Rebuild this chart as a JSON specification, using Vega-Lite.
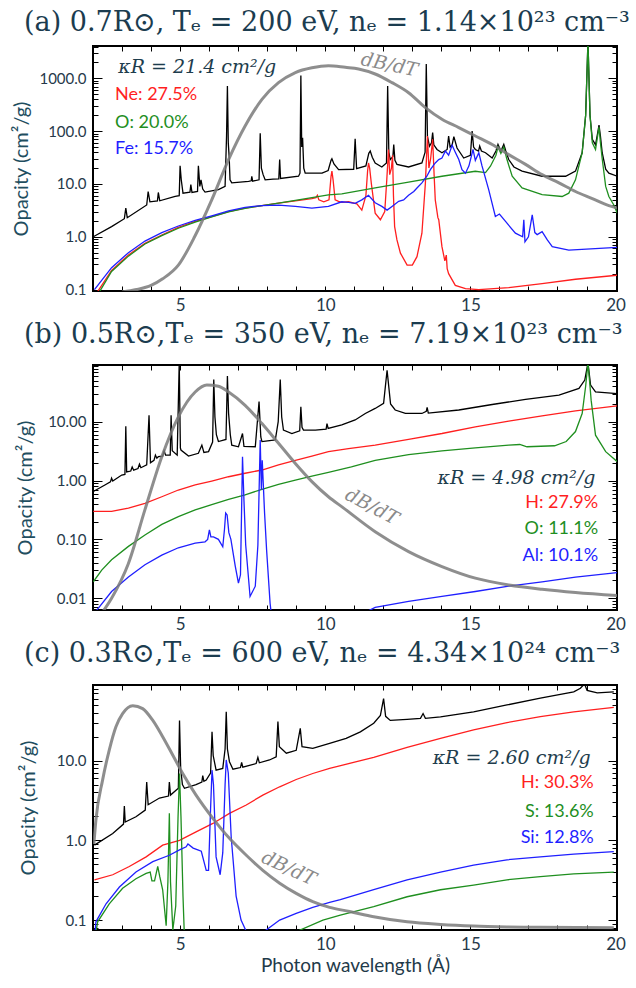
{
  "$schema": "https://vega.github.io/schema/vega-lite/v6.json",
  "padding": {"left": 10, "top": 7, "right": 0, "bottom": 0},
  "background": "white",
  "spacing": 5,
  "config": {
    "view": {"stroke": "black", "strokeWidth": 2},
    "title": {"font": "DejaVu Serif", "fontSize": 27, "fontWeight": "normal", "color": "#1b3c4f", "anchor": "start", "frame": "group"},
    "axis": {"domain": false, "grid": false, "tickColor": "black", "tickWidth": 1, "labelFont": "Lato", "labelColor": "#26394a", "titleFont": "Lato", "titleFontWeight": "normal", "titleColor": "#1f4e5f", "labelOverlap": false}
  },
  "datasets": {
    "a_spec": [
      {"s":"k","x":2.01,"y":1.0},{"s":"k","x":2.64,"y":1.56},{"s":"k","x":3.08,"y":2.2},{"s":"k","x":3.13,"y":3.5},{"s":"k","x":3.18,"y":2.3},{"s":"k","x":3.85,"y":4.0},{"s":"k","x":3.9,"y":7.2},{"s":"k","x":3.96,"y":4.6},{"s":"k","x":4.22,"y":4.8},{"s":"k","x":4.25,"y":6.9},{"s":"k","x":4.3,"y":4.8},{"s":"k","x":4.83,"y":5.8},{"s":"k","x":4.97,"y":6.0},{"s":"k","x":5.0,"y":22},{"s":"k","x":5.04,"y":12},{"s":"k","x":5.1,"y":6.7},{"s":"k","x":5.34,"y":7.0},{"s":"k","x":5.37,"y":9.7},{"s":"k","x":5.41,"y":6.9},{"s":"k","x":5.6,"y":7.2},{"s":"k","x":5.63,"y":22},{"s":"k","x":5.68,"y":9},{"s":"k","x":5.72,"y":12},{"s":"k","x":5.78,"y":8.0},{"s":"k","x":5.86,"y":7.0},{"s":"k","x":6.32,"y":7.8},{"s":"k","x":6.55,"y":9.0},{"s":"k","x":6.6,"y":80},{"s":"k","x":6.63,"y":720},{"s":"k","x":6.66,"y":60},{"s":"k","x":6.69,"y":33},{"s":"k","x":6.72,"y":12},{"s":"k","x":6.78,"y":10.5},{"s":"k","x":7.36,"y":11.2},{"s":"k","x":7.45,"y":11.5},{"s":"k","x":7.47,"y":14},{"s":"k","x":7.5,"y":11.3},{"s":"k","x":7.72,"y":12},{"s":"k","x":7.76,"y":91},{"s":"k","x":7.8,"y":20},{"s":"k","x":7.86,"y":15},{"s":"k","x":7.93,"y":12},{"s":"k","x":8.2,"y":12.3},{"s":"k","x":8.4,"y":12.5},{"s":"k","x":8.43,"y":29},{"s":"k","x":8.46,"y":12.7},{"s":"k","x":9.08,"y":14},{"s":"k","x":9.13,"y":16},{"s":"k","x":9.16,"y":1130},{"s":"k","x":9.19,"y":50},{"s":"k","x":9.22,"y":75},{"s":"k","x":9.26,"y":20},{"s":"k","x":9.31,"y":16},{"s":"k","x":9.89,"y":16},{"s":"k","x":10.1,"y":18},{"s":"k","x":10.2,"y":28},{"s":"k","x":10.23,"y":30},{"s":"k","x":10.3,"y":24},{"s":"k","x":10.46,"y":18.7},{"s":"k","x":10.98,"y":19},{"s":"k","x":11.03,"y":72},{"s":"k","x":11.08,"y":19.5},{"s":"k","x":11.4,"y":22},{"s":"k","x":11.5,"y":38},{"s":"k","x":11.55,"y":42},{"s":"k","x":11.62,"y":32},{"s":"k","x":11.72,"y":25},{"s":"k","x":11.95,"y":21},{"s":"k","x":12.11,"y":25},{"s":"k","x":12.15,"y":720},{"s":"k","x":12.19,"y":40},{"s":"k","x":12.24,"y":29},{"s":"k","x":12.33,"y":33},{"s":"k","x":12.36,"y":56},{"s":"k","x":12.4,"y":28},{"s":"k","x":12.47,"y":23.5},{"s":"k","x":12.87,"y":21},{"s":"k","x":13.33,"y":25},{"s":"k","x":13.44,"y":40},{"s":"k","x":13.48,"y":1860},{"s":"k","x":13.52,"y":80},{"s":"k","x":13.59,"y":52},{"s":"k","x":13.66,"y":60},{"s":"k","x":13.7,"y":94},{"s":"k","x":13.74,"y":55},{"s":"k","x":13.85,"y":45},{"s":"k","x":14.02,"y":39},{"s":"k","x":14.2,"y":45},{"s":"k","x":14.25,"y":81},{"s":"k","x":14.3,"y":50},{"s":"k","x":14.37,"y":55},{"s":"k","x":14.43,"y":79},{"s":"k","x":14.54,"y":48},{"s":"k","x":14.77,"y":31},{"s":"k","x":15.0,"y":35},{"s":"k","x":15.06,"y":100},{"s":"k","x":15.11,"y":50},{"s":"k","x":15.17,"y":45},{"s":"k","x":15.28,"y":42},{"s":"k","x":15.32,"y":52},{"s":"k","x":15.38,"y":42},{"s":"k","x":15.52,"y":39},{"s":"k","x":15.75,"y":31},{"s":"k","x":15.88,"y":42},{"s":"k","x":15.95,"y":56},{"s":"k","x":16.05,"y":42},{"s":"k","x":16.15,"y":56},{"s":"k","x":16.22,"y":42},{"s":"k","x":16.32,"y":29},{"s":"k","x":16.5,"y":21},{"s":"k","x":16.78,"y":17.5},{"s":"k","x":17.47,"y":14},{"s":"k","x":18.28,"y":14},{"s":"k","x":18.62,"y":17.5},{"s":"k","x":18.85,"y":39},{"s":"k","x":18.97,"y":200},{"s":"k","x":19.05,"y":5000},{"s":"k","x":19.12,"y":200},{"s":"k","x":19.2,"y":70},{"s":"k","x":19.31,"y":55},{"s":"k","x":19.38,"y":90},{"s":"k","x":19.43,"y":130},{"s":"k","x":19.48,"y":80},{"s":"k","x":19.54,"y":39},{"s":"k","x":19.66,"y":19},{"s":"k","x":19.77,"y":16},{"s":"k","x":20.06,"y":14},
      {"s":"r","x":2.15,"y":0.09},{"s":"r","x":2.64,"y":0.23},{"s":"r","x":3.22,"y":0.45},{"s":"r","x":3.79,"y":0.75},{"s":"r","x":4.37,"y":1.08},{"s":"r","x":4.94,"y":1.5},{"s":"r","x":5.52,"y":1.95},{"s":"r","x":6.09,"y":2.42},{"s":"r","x":6.67,"y":3.0},{"s":"r","x":7.24,"y":3.5},{"s":"r","x":7.82,"y":3.9},{"s":"r","x":8.39,"y":4.35},{"s":"r","x":8.97,"y":4.8},{"s":"r","x":9.54,"y":5.3},{"s":"r","x":9.68,"y":5.5},{"s":"r","x":9.73,"y":6.1},{"s":"r","x":9.78,"y":5.0},{"s":"r","x":9.95,"y":4.6},{"s":"r","x":10.13,"y":5.0},{"s":"r","x":10.2,"y":14},{"s":"r","x":10.23,"y":17.5},{"s":"r","x":10.27,"y":12},{"s":"r","x":10.34,"y":5.0},{"s":"r","x":10.46,"y":4.7},{"s":"r","x":10.57,"y":4.5},{"s":"r","x":10.8,"y":4.6},{"s":"r","x":11.09,"y":4.2},{"s":"r","x":11.26,"y":3.2},{"s":"r","x":11.4,"y":6},{"s":"r","x":11.46,"y":18},{"s":"r","x":11.49,"y":25},{"s":"r","x":11.53,"y":20},{"s":"r","x":11.59,"y":10},{"s":"r","x":11.72,"y":2.8},{"s":"r","x":11.9,"y":2.1},{"s":"r","x":12.05,"y":3.0},{"s":"r","x":12.12,"y":12},{"s":"r","x":12.18,"y":45},{"s":"r","x":12.22,"y":15},{"s":"r","x":12.28,"y":20},{"s":"r","x":12.32,"y":35},{"s":"r","x":12.35,"y":6},{"s":"r","x":12.39,"y":1.56},{"s":"r","x":12.47,"y":0.87},{"s":"r","x":12.59,"y":0.49},{"s":"r","x":12.82,"y":0.29},{"s":"r","x":13.0,"y":0.29},{"s":"r","x":13.16,"y":0.42},{"s":"r","x":13.33,"y":1.17},{"s":"r","x":13.45,"y":10.5},{"s":"r","x":13.52,"y":81},{"s":"r","x":13.57,"y":20},{"s":"r","x":13.63,"y":30},{"s":"r","x":13.7,"y":70},{"s":"r","x":13.75,"y":15},{"s":"r","x":13.79,"y":5},{"s":"r","x":13.88,"y":2.3},{"s":"r","x":13.91,"y":2.1},{"s":"r","x":14.02,"y":0.65},{"s":"r","x":14.12,"y":0.35},{"s":"r","x":14.17,"y":0.45},{"s":"r","x":14.2,"y":0.25},{"s":"r","x":14.25,"y":0.2},{"s":"r","x":14.48,"y":0.12},{"s":"r","x":14.83,"y":0.104},{"s":"r","x":15.29,"y":0.1},{"s":"r","x":16.32,"y":0.109},{"s":"r","x":17.47,"y":0.13},{"s":"r","x":18.62,"y":0.157},{"s":"r","x":20.06,"y":0.187},
      {"s":"g","x":2.22,"y":0.09},{"s":"g","x":2.64,"y":0.22},{"s":"g","x":3.22,"y":0.43},{"s":"g","x":3.79,"y":0.73},{"s":"g","x":4.37,"y":1.05},{"s":"g","x":4.94,"y":1.45},{"s":"g","x":5.52,"y":1.9},{"s":"g","x":6.09,"y":2.38},{"s":"g","x":6.67,"y":2.95},{"s":"g","x":7.24,"y":3.45},{"s":"g","x":7.82,"y":3.9},{"s":"g","x":8.39,"y":4.35},{"s":"g","x":8.97,"y":4.9},{"s":"g","x":9.54,"y":5.5},{"s":"g","x":10.11,"y":6.2},{"s":"g","x":10.57,"y":6.5},{"s":"g","x":11.72,"y":8.4},{"s":"g","x":12.87,"y":10.8},{"s":"g","x":14.02,"y":14},{"s":"g","x":15.17,"y":17.4},{"s":"g","x":15.52,"y":16.4},{"s":"g","x":15.69,"y":21.7},{"s":"g","x":15.88,"y":35},{"s":"g","x":15.95,"y":50},{"s":"g","x":16.05,"y":38},{"s":"g","x":16.15,"y":50},{"s":"g","x":16.26,"y":29},{"s":"g","x":16.44,"y":14},{"s":"g","x":16.78,"y":8.4},{"s":"g","x":17.47,"y":6.3},{"s":"g","x":18.16,"y":5.8},{"s":"g","x":18.39,"y":6.7},{"s":"g","x":18.62,"y":12},{"s":"g","x":18.85,"y":39},{"s":"g","x":18.97,"y":200},{"s":"g","x":19.05,"y":5000},{"s":"g","x":19.12,"y":200},{"s":"g","x":19.2,"y":60},{"s":"g","x":19.31,"y":45},{"s":"g","x":19.38,"y":80},{"s":"g","x":19.43,"y":120},{"s":"g","x":19.48,"y":60},{"s":"g","x":19.54,"y":30},{"s":"g","x":19.66,"y":9},{"s":"g","x":19.77,"y":5.8},{"s":"g","x":19.94,"y":4.0},{"s":"g","x":20.06,"y":2.8},
      {"s":"b","x":2.05,"y":0.1},{"s":"b","x":2.64,"y":0.26},{"s":"b","x":3.22,"y":0.5},{"s":"b","x":3.79,"y":0.83},{"s":"b","x":4.37,"y":1.2},{"s":"b","x":4.94,"y":1.6},{"s":"b","x":5.52,"y":2.05},{"s":"b","x":6.09,"y":2.5},{"s":"b","x":6.67,"y":3.1},{"s":"b","x":7.24,"y":3.6},{"s":"b","x":7.82,"y":3.9},{"s":"b","x":8.39,"y":3.98},{"s":"b","x":8.97,"y":3.76},{"s":"b","x":9.54,"y":3.5},{"s":"b","x":10.11,"y":3.76},{"s":"b","x":10.57,"y":4.6},{"s":"b","x":10.8,"y":4.5},{"s":"b","x":11.03,"y":4.3},{"s":"b","x":11.26,"y":5.0},{"s":"b","x":11.49,"y":6.1},{"s":"b","x":11.72,"y":4.4},{"s":"b","x":11.95,"y":3.76},{"s":"b","x":12.13,"y":3.2},{"s":"b","x":12.3,"y":3.76},{"s":"b","x":12.53,"y":4.7},{"s":"b","x":12.7,"y":5.0},{"s":"b","x":12.87,"y":6.1},{"s":"b","x":13.05,"y":7.2},{"s":"b","x":13.16,"y":8.4},{"s":"b","x":13.33,"y":10.5},{"s":"b","x":13.5,"y":14},{"s":"b","x":13.62,"y":18.7},{"s":"b","x":13.79,"y":25},{"s":"b","x":13.91,"y":29},{"s":"b","x":14.02,"y":31},{"s":"b","x":14.14,"y":42},{"s":"b","x":14.25,"y":35},{"s":"b","x":14.37,"y":54},{"s":"b","x":14.48,"y":40},{"s":"b","x":14.6,"y":29},{"s":"b","x":14.71,"y":18.7},{"s":"b","x":14.83,"y":16},{"s":"b","x":14.95,"y":22},{"s":"b","x":15.09,"y":45},{"s":"b","x":15.17,"y":28},{"s":"b","x":15.29,"y":39},{"s":"b","x":15.4,"y":22},{"s":"b","x":15.63,"y":7.8},{"s":"b","x":15.86,"y":2.42},{"s":"b","x":16.0,"y":2.7},{"s":"b","x":16.21,"y":1.95},{"s":"b","x":16.55,"y":1.17},{"s":"b","x":16.8,"y":1.0},{"s":"b","x":16.84,"y":2.1},{"s":"b","x":16.88,"y":0.8},{"s":"b","x":17.0,"y":1.0},{"s":"b","x":17.13,"y":2.6},{"s":"b","x":17.22,"y":1.2},{"s":"b","x":17.3,"y":1.1},{"s":"b","x":17.47,"y":1.25},{"s":"b","x":17.65,"y":0.87},{"s":"b","x":17.82,"y":0.65},{"s":"b","x":18.39,"y":0.56},{"s":"b","x":20.06,"y":0.63}
    ],
    "a_db": [
      {"x":3.0,"y":0.09},{"x":3.5,"y":0.1},{"x":4.0,"y":0.12},{"x":4.4,"y":0.16},{"x":4.94,"y":0.29},{"x":5.5,"y":1.0},{"x":6.09,"y":5.0},{"x":6.67,"y":29},{"x":7.24,"y":125},{"x":7.82,"y":400},{"x":8.39,"y":830},{"x":8.97,"y":1290},{"x":9.54,"y":1590},{"x":10.11,"y":1740},{"x":10.69,"y":1620},{"x":11.15,"y":1510},{"x":11.72,"y":1210},{"x":12.3,"y":830},{"x":12.87,"y":535},{"x":13.45,"y":280},{"x":14.02,"y":168},{"x":14.6,"y":117},{"x":15.17,"y":81},{"x":15.75,"y":56},{"x":16.32,"y":36},{"x":16.9,"y":23.5},{"x":17.47,"y":15},{"x":18.05,"y":10.5},{"x":18.62,"y":7.2},{"x":19.2,"y":5.3},{"x":19.77,"y":3.9},{"x":20.06,"y":3.5}
    ],
    "a_lab": [
      {"s":"r","t":"Ne: 27.5%","x":2.76,"y":480},{"s":"g","t":"O: 20.0%","x":2.76,"y":145},{"s":"b","t":"Fe: 15.7%","x":2.76,"y":45}
    ],
    "a_kap": [{"t":"κR = 21.4 cm²/g","x":2.87,"y":1620}],
    "a_dbl": [{"t":"dB/dT","x":12.21,"y":1800}],
    "b_spec": [
      {"s":"k","x":2.01,"y":0.65},{"s":"k","x":2.41,"y":0.84},{"s":"k","x":2.6,"y":0.95},{"s":"k","x":2.64,"y":1.1},{"s":"k","x":2.68,"y":0.98},{"s":"k","x":2.99,"y":1.24},{"s":"k","x":3.1,"y":1.27},{"s":"k","x":3.13,"y":8.4},{"s":"k","x":3.16,"y":1.4},{"s":"k","x":3.3,"y":1.45},{"s":"k","x":3.35,"y":1.7},{"s":"k","x":3.4,"y":1.5},{"s":"k","x":3.55,"y":1.6},{"s":"k","x":3.6,"y":1.9},{"s":"k","x":3.65,"y":1.65},{"s":"k","x":3.85,"y":1.84},{"s":"k","x":3.93,"y":12.9},{"s":"k","x":3.98,"y":2.0},{"s":"k","x":4.1,"y":2.2},{"s":"k","x":4.15,"y":2.7},{"s":"k","x":4.2,"y":2.4},{"s":"k","x":4.25,"y":2.54},{"s":"k","x":4.4,"y":2.6},{"s":"k","x":4.45,"y":3.2},{"s":"k","x":4.5,"y":2.7},{"s":"k","x":4.66,"y":2.7},{"s":"k","x":4.69,"y":12.9},{"s":"k","x":4.73,"y":3.2},{"s":"k","x":4.9,"y":2.7},{"s":"k","x":4.97,"y":100},{"s":"k","x":5.01,"y":3.6},{"s":"k","x":5.03,"y":3.3},{"s":"k","x":5.29,"y":2.6},{"s":"k","x":5.63,"y":2.9},{"s":"k","x":5.75,"y":4.0},{"s":"k","x":5.82,"y":3.0},{"s":"k","x":5.98,"y":3.1},{"s":"k","x":6.12,"y":4.5},{"s":"k","x":6.16,"y":52},{"s":"k","x":6.2,"y":12},{"s":"k","x":6.25,"y":6},{"s":"k","x":6.32,"y":4.6},{"s":"k","x":6.58,"y":5.0},{"s":"k","x":6.63,"y":60},{"s":"k","x":6.67,"y":14},{"s":"k","x":6.73,"y":6},{"s":"k","x":6.78,"y":4.0},{"s":"k","x":7.01,"y":3.75},{"s":"k","x":7.15,"y":6.3},{"s":"k","x":7.2,"y":3.8},{"s":"k","x":7.59,"y":3.75},{"s":"k","x":7.72,"y":22},{"s":"k","x":7.78,"y":5.5},{"s":"k","x":7.82,"y":4.6},{"s":"k","x":8.28,"y":4.9},{"s":"k","x":8.38,"y":10},{"s":"k","x":8.45,"y":52},{"s":"k","x":8.5,"y":12},{"s":"k","x":8.56,"y":7.2},{"s":"k","x":8.85,"y":6.3},{"s":"k","x":9.12,"y":7.0},{"s":"k","x":9.16,"y":18},{"s":"k","x":9.2,"y":8},{"s":"k","x":9.25,"y":7.2},{"s":"k","x":9.66,"y":7.2},{"s":"k","x":10.03,"y":7.5},{"s":"k","x":10.06,"y":9.3},{"s":"k","x":10.1,"y":7.7},{"s":"k","x":10.57,"y":8.8},{"s":"k","x":11.03,"y":10.7},{"s":"k","x":11.38,"y":13.8},{"s":"k","x":11.72,"y":16.8},{"s":"k","x":12.01,"y":20.5},{"s":"k","x":12.13,"y":75},{"s":"k","x":12.25,"y":20},{"s":"k","x":12.41,"y":15.8},{"s":"k","x":12.76,"y":13.8},{"s":"k","x":13.33,"y":13.8},{"s":"k","x":13.48,"y":15},{"s":"k","x":13.51,"y":17.5},{"s":"k","x":13.55,"y":14},{"s":"k","x":14.6,"y":15.8},{"s":"k","x":15.75,"y":19.6},{"s":"k","x":16.9,"y":24},{"s":"k","x":18.05,"y":28.4},{"s":"k","x":18.74,"y":36.7},{"s":"k","x":18.94,"y":51},{"s":"k","x":19.05,"y":100},{"s":"k","x":19.14,"y":42},{"s":"k","x":19.31,"y":32},{"s":"k","x":20.06,"y":30},
      {"s":"r","x":2.01,"y":0.3},{"s":"r","x":2.64,"y":0.3},{"s":"r","x":3.22,"y":0.34},{"s":"r","x":3.79,"y":0.41},{"s":"r","x":4.37,"y":0.53},{"s":"r","x":4.94,"y":0.69},{"s":"r","x":5.52,"y":0.84},{"s":"r","x":6.09,"y":0.98},{"s":"r","x":6.67,"y":1.16},{"s":"r","x":7.24,"y":1.33},{"s":"r","x":7.82,"y":1.51},{"s":"r","x":8.39,"y":1.84},{"s":"r","x":8.97,"y":2.2},{"s":"r","x":9.54,"y":2.6},{"s":"r","x":10.11,"y":3.1},{"s":"r","x":10.8,"y":3.5},{"s":"r","x":11.72,"y":4.0},{"s":"r","x":12.87,"y":5.0},{"s":"r","x":14.02,"y":6.3},{"s":"r","x":15.17,"y":8.2},{"s":"r","x":16.32,"y":10.2},{"s":"r","x":17.47,"y":12.6},{"s":"r","x":18.62,"y":15.3},{"s":"r","x":20.06,"y":18.6},
      {"s":"g","x":2.01,"y":0.019},{"s":"g","x":2.3,"y":0.03},{"s":"g","x":2.64,"y":0.045},{"s":"g","x":3.22,"y":0.076},{"s":"g","x":3.79,"y":0.119},{"s":"g","x":4.37,"y":0.18},{"s":"g","x":4.94,"y":0.244},{"s":"g","x":5.52,"y":0.316},{"s":"g","x":6.09,"y":0.39},{"s":"g","x":6.67,"y":0.48},{"s":"g","x":7.24,"y":0.57},{"s":"g","x":7.82,"y":0.71},{"s":"g","x":8.39,"y":0.86},{"s":"g","x":8.97,"y":1.02},{"s":"g","x":9.54,"y":1.19},{"s":"g","x":10.11,"y":1.38},{"s":"g","x":10.9,"y":1.7},{"s":"g","x":11.72,"y":2.2},{"s":"g","x":12.87,"y":2.75},{"s":"g","x":14.02,"y":3.2},{"s":"g","x":15.17,"y":3.6},{"s":"g","x":16.32,"y":4.0},{"s":"g","x":16.7,"y":4.1},{"s":"g","x":16.95,"y":3.75},{"s":"g","x":17.9,"y":3.9},{"s":"g","x":18.3,"y":4.6},{"s":"g","x":18.62,"y":6.8},{"s":"g","x":18.85,"y":13.8},{"s":"g","x":18.97,"y":40},{"s":"g","x":19.05,"y":100},{"s":"g","x":19.12,"y":40},{"s":"g","x":19.16,"y":23},{"s":"g","x":19.31,"y":5.9},{"s":"g","x":19.66,"y":3.1},{"s":"g","x":20.06,"y":2.09},
      {"s":"b","x":2.1,"y":0.006},{"s":"b","x":2.64,"y":0.013},{"s":"b","x":3.22,"y":0.023},{"s":"b","x":3.79,"y":0.037},{"s":"b","x":4.37,"y":0.054},{"s":"b","x":4.94,"y":0.072},{"s":"b","x":5.52,"y":0.086},{"s":"b","x":5.86,"y":0.091},{"s":"b","x":5.95,"y":0.1},{"s":"b","x":6.01,"y":0.145},{"s":"b","x":6.06,"y":0.11},{"s":"b","x":6.15,"y":0.11},{"s":"b","x":6.32,"y":0.1},{"s":"b","x":6.47,"y":0.075},{"s":"b","x":6.53,"y":0.15},{"s":"b","x":6.57,"y":0.28},{"s":"b","x":6.62,"y":0.26},{"s":"b","x":6.68,"y":0.13},{"s":"b","x":6.75,"y":0.1},{"s":"b","x":6.9,"y":0.035},{"s":"b","x":7.01,"y":0.018},{"s":"b","x":7.08,"y":0.025},{"s":"b","x":7.15,"y":2.54},{"s":"b","x":7.2,"y":0.46},{"s":"b","x":7.26,"y":0.08},{"s":"b","x":7.41,"y":0.0107},{"s":"b","x":7.59,"y":0.016},{"s":"b","x":7.68,"y":0.08},{"s":"b","x":7.76,"y":4.9},{"s":"b","x":7.8,"y":0.7},{"s":"b","x":7.83,"y":2.2},{"s":"b","x":7.91,"y":0.28},{"s":"b","x":7.98,"y":0.066},{"s":"b","x":8.1,"y":0.0082},{"s":"b","x":8.15,"y":0.005},
      {"s":"b","p":2,"x":11.4,"y":0.0058},{"s":"b","p":2,"x":11.72,"y":0.007},{"s":"b","p":2,"x":12.87,"y":0.0088},{"s":"b","p":2,"x":14.02,"y":0.0107},{"s":"b","p":2,"x":15.17,"y":0.013},{"s":"b","p":2,"x":16.32,"y":0.016},{"s":"b","p":2,"x":17.47,"y":0.019},{"s":"b","p":2,"x":18.62,"y":0.0228},{"s":"b","p":2,"x":20.06,"y":0.0273}
    ],
    "b_db": [
      {"x":2.35,"y":0.006},{"x":2.64,"y":0.01},{"x":3.22,"y":0.039},{"x":3.79,"y":0.32},{"x":4.37,"y":2.54},{"x":4.94,"y":12.1},{"x":5.52,"y":32},{"x":5.92,"y":42},{"x":6.32,"y":40},{"x":6.67,"y":32},{"x":7.24,"y":19},{"x":7.82,"y":9.3},{"x":8.39,"y":4.3},{"x":8.97,"y":1.95},{"x":9.54,"y":0.96},{"x":10.11,"y":0.53},{"x":10.6,"y":0.35},{"x":11.72,"y":0.135},{"x":12.87,"y":0.062},{"x":14.02,"y":0.0345},{"x":15.17,"y":0.0219},{"x":16.32,"y":0.0168},{"x":17.47,"y":0.0142},{"x":18.62,"y":0.0125},{"x":20.06,"y":0.0111}
    ],
    "b_lab": [
      {"s":"r","t":"H: 27.9%","x":19.4,"y":0.41},{"s":"g","t":"O: 11.1%","x":19.4,"y":0.148},{"s":"b","t":"Al: 10.1%","x":19.4,"y":0.053}
    ],
    "b_kap": [{"t":"κR = 4.98 cm²/g","x":19.31,"y":1.09}],
    "b_dbl": [{"t":"dB/dT","x":11.61,"y":0.36}],
    "c_spec": [
      {"s":"k","x":2.05,"y":0.87},{"s":"k","x":2.68,"y":1.22},{"s":"k","x":3.05,"y":1.6},{"s":"k","x":3.08,"y":2.7},{"s":"k","x":3.11,"y":1.7},{"s":"k","x":3.48,"y":1.98},{"s":"k","x":3.8,"y":2.4},{"s":"k","x":3.85,"y":5.4},{"s":"k","x":3.9,"y":2.8},{"s":"k","x":4.29,"y":3.4},{"s":"k","x":4.6,"y":3.6},{"s":"k","x":4.63,"y":5.4},{"s":"k","x":4.67,"y":3.7},{"s":"k","x":4.94,"y":4.5},{"s":"k","x":4.98,"y":32},{"s":"k","x":5.02,"y":8},{"s":"k","x":5.08,"y":5},{"s":"k","x":5.15,"y":4.5},{"s":"k","x":5.55,"y":5.0},{"s":"k","x":5.75,"y":5.4},{"s":"k","x":5.78,"y":6.5},{"s":"k","x":5.82,"y":5.5},{"s":"k","x":5.9,"y":5.7},{"s":"k","x":6.05,"y":7},{"s":"k","x":6.1,"y":23},{"s":"k","x":6.14,"y":11.6},{"s":"k","x":6.24,"y":7.6},{"s":"k","x":6.47,"y":8.0},{"s":"k","x":6.55,"y":14},{"s":"k","x":6.59,"y":41},{"s":"k","x":6.63,"y":14},{"s":"k","x":6.7,"y":9.7},{"s":"k","x":6.82,"y":7.8},{"s":"k","x":7.08,"y":8.2},{"s":"k","x":7.12,"y":9.5},{"s":"k","x":7.16,"y":8.3},{"s":"k","x":7.62,"y":9.2},{"s":"k","x":7.68,"y":11},{"s":"k","x":7.73,"y":9.4},{"s":"k","x":8.08,"y":10.2},{"s":"k","x":8.31,"y":11.2},{"s":"k","x":8.37,"y":31},{"s":"k","x":8.42,"y":15},{"s":"k","x":8.66,"y":12.4},{"s":"k","x":9.0,"y":13.5},{"s":"k","x":9.14,"y":25.5},{"s":"k","x":9.2,"y":15},{"s":"k","x":9.57,"y":14.3},{"s":"k","x":10.15,"y":16.5},{"s":"k","x":10.72,"y":19},{"s":"k","x":11.21,"y":23},{"s":"k","x":11.67,"y":29.5},{"s":"k","x":11.9,"y":37},{"s":"k","x":12.01,"y":60},{"s":"k","x":12.08,"y":36},{"s":"k","x":12.24,"y":32},{"s":"k","x":12.82,"y":33},{"s":"k","x":13.28,"y":34},{"s":"k","x":13.37,"y":39},{"s":"k","x":13.45,"y":34},{"s":"k","x":13.97,"y":35.5},{"s":"k","x":15.11,"y":41},{"s":"k","x":16.26,"y":50},{"s":"k","x":17.41,"y":61},{"s":"k","x":18.56,"y":73},{"s":"k","x":18.79,"y":81},{"s":"k","x":18.93,"y":92},{"s":"k","x":19.02,"y":76},{"s":"k","x":19.37,"y":71},{"s":"k","x":19.94,"y":73},
      {"s":"r","x":2.05,"y":0.32},{"s":"r","x":2.68,"y":0.37},{"s":"r","x":3.25,"y":0.47},{"s":"r","x":3.83,"y":0.62},{"s":"r","x":4.4,"y":0.87},{"s":"r","x":4.98,"y":1.0},{"s":"r","x":5.55,"y":1.28},{"s":"r","x":6.13,"y":1.63},{"s":"r","x":6.7,"y":2.18},{"s":"r","x":7.28,"y":2.78},{"s":"r","x":7.85,"y":3.7},{"s":"r","x":8.43,"y":4.7},{"s":"r","x":9.0,"y":5.8},{"s":"r","x":9.57,"y":6.9},{"s":"r","x":10.15,"y":8.0},{"s":"r","x":10.6,"y":8.8},{"s":"r","x":11.67,"y":11},{"s":"r","x":12.82,"y":14.7},{"s":"r","x":13.97,"y":19},{"s":"r","x":15.11,"y":24.3},{"s":"r","x":16.26,"y":30},{"s":"r","x":17.41,"y":35.6},{"s":"r","x":18.56,"y":41},{"s":"r","x":19.94,"y":46.7},
      {"s":"g","x":2.1,"y":0.07},{"s":"g","x":2.16,"y":0.095},{"s":"g","x":2.56,"y":0.16},{"s":"g","x":3.02,"y":0.25},{"s":"g","x":3.48,"y":0.33},{"s":"g","x":3.83,"y":0.385},{"s":"g","x":3.97,"y":0.4},{"s":"g","x":4.03,"y":0.31},{"s":"g","x":4.12,"y":0.31},{"s":"g","x":4.23,"y":0.47},{"s":"g","x":4.3,"y":0.35},{"s":"g","x":4.4,"y":0.24},{"s":"g","x":4.52,"y":0.085},{"s":"g","x":4.58,"y":0.3},{"s":"g","x":4.63,"y":2.18},{"s":"g","x":4.67,"y":0.3},{"s":"g","x":4.75,"y":0.075},{"s":"g","x":4.85,"y":0.15},{"s":"g","x":4.93,"y":2},{"s":"g","x":4.98,"y":6.9},{"s":"g","x":5.03,"y":2},{"s":"g","x":5.1,"y":0.2},{"s":"g","x":5.15,"y":0.06},
      {"s":"g","p":2,"x":8.95,"y":0.07},{"s":"g","p":2,"x":9.92,"y":0.1},{"s":"g","p":2,"x":10.52,"y":0.115},{"s":"g","p":2,"x":11.67,"y":0.147},{"s":"g","p":2,"x":12.82,"y":0.196},{"s":"g","p":2,"x":13.97,"y":0.24},{"s":"g","p":2,"x":15.11,"y":0.275},{"s":"g","p":2,"x":16.26,"y":0.32},{"s":"g","p":2,"x":17.41,"y":0.35},{"s":"g","p":2,"x":18.56,"y":0.38},{"s":"g","p":2,"x":19.94,"y":0.4},
      {"s":"b","x":2.07,"y":0.07},{"s":"b","x":2.1,"y":0.095},{"s":"b","x":2.45,"y":0.16},{"s":"b","x":2.91,"y":0.26},{"s":"b","x":3.48,"y":0.4},{"s":"b","x":4.06,"y":0.54},{"s":"b","x":4.63,"y":0.65},{"s":"b","x":4.98,"y":0.76},{"s":"b","x":5.21,"y":0.83},{"s":"b","x":5.27,"y":0.9},{"s":"b","x":5.45,"y":0.8},{"s":"b","x":5.61,"y":0.76},{"s":"b","x":5.73,"y":0.73},{"s":"b","x":5.9,"y":0.42},{"s":"b","x":5.98,"y":0.42},{"s":"b","x":6.05,"y":2.5},{"s":"b","x":6.1,"y":7.6},{"s":"b","x":6.15,"y":5},{"s":"b","x":6.24,"y":0.62},{"s":"b","x":6.38,"y":0.37},{"s":"b","x":6.47,"y":0.7},{"s":"b","x":6.55,"y":5},{"s":"b","x":6.59,"y":10.2},{"s":"b","x":6.66,"y":7},{"s":"b","x":6.76,"y":1.1},{"s":"b","x":6.93,"y":0.2},{"s":"b","x":7.1,"y":0.1},{"s":"b","x":7.28,"y":0.072},{"s":"b","x":7.9,"y":0.072},{"s":"b","x":8.43,"y":0.1},{"s":"b","x":9.0,"y":0.121},{"s":"b","x":9.57,"y":0.144},{"s":"b","x":10.15,"y":0.167},{"s":"b","x":10.52,"y":0.18},{"s":"b","x":11.67,"y":0.24},{"s":"b","x":12.82,"y":0.32},{"s":"b","x":13.97,"y":0.4},{"s":"b","x":15.11,"y":0.49},{"s":"b","x":16.26,"y":0.57},{"s":"b","x":17.41,"y":0.62},{"s":"b","x":18.56,"y":0.67},{"s":"b","x":19.94,"y":0.72}
    ],
    "c_db": [
      {"x":2.03,"y":0.9},{"x":2.1,"y":1.8},{"x":2.33,"y":5.7},{"x":2.56,"y":13.6},{"x":2.79,"y":26.7},{"x":3.02,"y":39},{"x":3.37,"y":49},{"x":3.71,"y":45},{"x":4.06,"y":32},{"x":4.4,"y":20},{"x":4.75,"y":11.7},{"x":5.09,"y":6.9},{"x":5.55,"y":3.7},{"x":6.13,"y":1.89},{"x":6.7,"y":1.06},{"x":7.28,"y":0.65},{"x":7.85,"y":0.42},{"x":8.43,"y":0.29},{"x":9.0,"y":0.216},{"x":9.57,"y":0.17},{"x":10.15,"y":0.144},{"x":10.84,"y":0.128},{"x":11.67,"y":0.11},{"x":12.82,"y":0.095},{"x":13.97,"y":0.088},{"x":15.11,"y":0.084},{"x":16.26,"y":0.082},{"x":17.41,"y":0.081},{"x":19.94,"y":0.08}
    ],
    "c_lab": [
      {"s":"r","t":"H: 30.3%","x":19.25,"y":5.2},{"s":"g","t":"S: 13.6%","x":19.25,"y":2.29},{"s":"b","t":"Si: 12.8%","x":19.25,"y":1.06}
    ],
    "c_kap": [{"t":"κR = 2.60 cm²/g","x":19.14,"y":10.7}],
    "c_dbl": [{"t":"dB/dT","x":8.74,"y":0.445}]
  },
  "vconcat": [
    {
      "title": {"text": "(a) 0.7R⊙, Tₑ = 200 eV, nₑ = 1.14×10²³ cm⁻³", "dx": -69, "offset": 3},
      "width": 524, "height": 245,
      "resolve": {"axis": {"x": "independent", "y": "independent"}},
      "layer": [
        {"data": {"name": "a_spec"}, "mark": {"type": "line", "clip": true, "strokeWidth": 1.3},
         "encoding": {
           "x": {"field": "x", "type": "quantitative", "scale": {"domain": [2, 20.05], "nice": false, "zero": false},
                 "axis": {"orient": "bottom", "title": null, "values": [2,3,4,5,6,7,8,9,10,11,12,13,14,15,16,17,18,19,20], "labelExpr": "datum.value % 5 === 0 ? datum.label : ''", "tickSize": -5, "labelPadding": 11, "labelFontSize": 17}},
           "y": {"field": "y", "type": "quantitative", "scale": {"type": "log", "domain": [0.094, 4100], "nice": false},
                 "axis": {"orient": "left", "title": "Opacity (cm²/g)", "titleFontSize": 20, "titlePadding": 7, "format": ".1f",
                          "values": [0.1,0.2,0.3,0.4,0.5,0.6,0.7,0.8,0.9,1,2,3,4,5,6,7,8,9,10,20,30,40,50,60,70,80,90,100,200,300,400,500,600,700,800,900,1000,2000,3000,4000],
                          "labelExpr": "abs(log(datum.value)/LN10 - round(log(datum.value)/LN10)) < 1e-6 ? datum.label : ''",
                          "tickSize": {"condition": {"test": "abs(log(datum.value)/LN10 - round(log(datum.value)/LN10)) < 1e-6", "value": -9}, "value": -5},
                          "labelPadding": 16, "labelFontSize": 15}},
           "color": {"field": "s", "type": "nominal", "scale": {"domain": ["k","r","g","b"], "range": ["#000000","#ff1f1f","#1f8f1f","#1f1fff"]}, "legend": null},
           "detail": {"field": "p", "type": "nominal"}
         }},
        {"data": {"name": "a_db"}, "mark": {"type": "line", "clip": true, "strokeWidth": 3, "color": "#7a7a7a", "opacity": 0.85, "interpolate": "monotone"},
         "encoding": {
           "x": {"field": "x", "type": "quantitative", "axis": {"orient": "top", "title": null, "labels": false, "values": [2,3,4,5,6,7,8,9,10,11,12,13,14,15,16,17,18,19,20], "tickSize": -5}},
           "y": {"field": "y", "type": "quantitative", "axis": {"orient": "right", "title": null, "labels": false,
                 "values": [0.1,0.2,0.3,0.4,0.5,0.6,0.7,0.8,0.9,1,2,3,4,5,6,7,8,9,10,20,30,40,50,60,70,80,90,100,200,300,400,500,600,700,800,900,1000,2000,3000,4000],
                 "tickSize": {"condition": {"test": "abs(log(datum.value)/LN10 - round(log(datum.value)/LN10)) < 1e-6", "value": -9}, "value": -5}}}
         }},
        {"data": {"name": "a_kap"}, "mark": {"type": "text", "align": "left", "baseline": "middle", "font": "DejaVu Serif", "fontStyle": "italic", "fontSize": 19, "color": "#1e3d4d"},
         "encoding": {"x": {"field": "x", "type": "quantitative", "axis": null}, "y": {"field": "y", "type": "quantitative", "axis": null}, "text": {"field": "t"}}},
        {"data": {"name": "a_lab"}, "mark": {"type": "text", "align": "left", "baseline": "middle", "font": "Lato", "fontSize": 18},
         "encoding": {"x": {"field": "x", "type": "quantitative", "axis": null}, "y": {"field": "y", "type": "quantitative", "axis": null}, "text": {"field": "t"}, "color": {"field": "s", "type": "nominal", "legend": null}}},
        {"data": {"name": "a_dbl"}, "mark": {"type": "text", "align": "center", "baseline": "middle", "font": "DejaVu Serif", "fontStyle": "italic", "fontSize": 19, "color": "#8a8a8a", "angle": 12},
         "encoding": {"x": {"field": "x", "type": "quantitative", "axis": null}, "y": {"field": "y", "type": "quantitative", "axis": null}, "text": {"field": "t"}}}
      ]
    },
    {
      "title": {"text": "(b) 0.5R⊙,Tₑ = 350 eV, nₑ = 7.19×10²³ cm⁻³", "dx": -69, "offset": 10},
      "width": 524, "height": 245,
      "resolve": {"axis": {"x": "independent", "y": "independent"}},
      "layer": [
        {"data": {"name": "b_spec"}, "mark": {"type": "line", "clip": true, "strokeWidth": 1.3},
         "encoding": {
           "x": {"field": "x", "type": "quantitative", "scale": {"domain": [2, 20.05], "nice": false, "zero": false},
                 "axis": {"orient": "bottom", "title": null, "values": [2,3,4,5,6,7,8,9,10,11,12,13,14,15,16,17,18,19,20], "labelExpr": "datum.value % 5 === 0 ? datum.label : ''", "tickSize": -5, "labelPadding": 11, "labelFontSize": 17}},
           "y": {"field": "y", "type": "quantitative", "scale": {"type": "log", "domain": [0.0063, 92], "nice": false},
                 "axis": {"orient": "left", "title": "Opacity (cm²/g)", "titleFontSize": 20, "titlePadding": 12, "format": ".2f",
                          "values": [0.007,0.008,0.009,0.01,0.02,0.03,0.04,0.05,0.06,0.07,0.08,0.09,0.1,0.2,0.3,0.4,0.5,0.6,0.7,0.8,0.9,1,2,3,4,5,6,7,8,9,10,20,30,40,50,60,70,80,90],
                          "labelExpr": "abs(log(datum.value)/LN10 - round(log(datum.value)/LN10)) < 1e-6 ? datum.label : ''",
                          "tickSize": {"condition": {"test": "abs(log(datum.value)/LN10 - round(log(datum.value)/LN10)) < 1e-6", "value": -9}, "value": -5},
                          "labelPadding": 16, "labelFontSize": 15}},
           "color": {"field": "s", "type": "nominal", "scale": {"domain": ["k","r","g","b"], "range": ["#000000","#ff1f1f","#1f8f1f","#1f1fff"]}, "legend": null},
           "detail": {"field": "p", "type": "nominal"}
         }},
        {"data": {"name": "b_db"}, "mark": {"type": "line", "clip": true, "strokeWidth": 3, "color": "#7a7a7a", "opacity": 0.85, "interpolate": "monotone"},
         "encoding": {
           "x": {"field": "x", "type": "quantitative", "axis": {"orient": "top", "title": null, "labels": false, "values": [2,3,4,5,6,7,8,9,10,11,12,13,14,15,16,17,18,19,20], "tickSize": -5}},
           "y": {"field": "y", "type": "quantitative", "axis": {"orient": "right", "title": null, "labels": false,
                 "values": [0.007,0.008,0.009,0.01,0.02,0.03,0.04,0.05,0.06,0.07,0.08,0.09,0.1,0.2,0.3,0.4,0.5,0.6,0.7,0.8,0.9,1,2,3,4,5,6,7,8,9,10,20,30,40,50,60,70,80,90],
                 "tickSize": {"condition": {"test": "abs(log(datum.value)/LN10 - round(log(datum.value)/LN10)) < 1e-6", "value": -9}, "value": -5}}}
         }},
        {"data": {"name": "b_kap"}, "mark": {"type": "text", "align": "right", "baseline": "middle", "font": "DejaVu Serif", "fontStyle": "italic", "fontSize": 19, "color": "#1e3d4d"},
         "encoding": {"x": {"field": "x", "type": "quantitative", "axis": null}, "y": {"field": "y", "type": "quantitative", "axis": null}, "text": {"field": "t"}}},
        {"data": {"name": "b_lab"}, "mark": {"type": "text", "align": "right", "baseline": "middle", "font": "Lato", "fontSize": 18},
         "encoding": {"x": {"field": "x", "type": "quantitative", "axis": null}, "y": {"field": "y", "type": "quantitative", "axis": null}, "text": {"field": "t"}, "color": {"field": "s", "type": "nominal", "legend": null}}},
        {"data": {"name": "b_dbl"}, "mark": {"type": "text", "align": "center", "baseline": "middle", "font": "DejaVu Serif", "fontStyle": "italic", "fontSize": 19, "color": "#8a8a8a", "angle": 28},
         "encoding": {"x": {"field": "x", "type": "quantitative", "axis": null}, "y": {"field": "y", "type": "quantitative", "axis": null}, "text": {"field": "t"}}}
      ]
    },
    {
      "title": {"text": "(c) 0.3R⊙,Tₑ = 600 eV, nₑ = 4.34×10²⁴ cm⁻³", "dx": -69, "offset": 14},
      "width": 524, "height": 245,
      "resolve": {"axis": {"x": "independent", "y": "independent"}},
      "layer": [
        {"data": {"name": "c_spec"}, "mark": {"type": "line", "clip": true, "strokeWidth": 1.3},
         "encoding": {
           "x": {"field": "x", "type": "quantitative", "scale": {"domain": [2, 20.05], "nice": false, "zero": false},
                 "axis": {"orient": "bottom", "title": "Photon wavelength (Å)", "titleFontSize": 19, "titleColor": "#1f3a4a", "titlePadding": 4, "values": [2,3,4,5,6,7,8,9,10,11,12,13,14,15,16,17,18,19,20], "labelExpr": "datum.value % 5 === 0 ? datum.label : ''", "tickSize": -5, "labelPadding": 11, "labelFontSize": 17}},
           "y": {"field": "y", "type": "quantitative", "scale": {"type": "log", "domain": [0.075, 89], "nice": false},
                 "axis": {"orient": "left", "title": "Opacity (cm²/g)", "titleFontSize": 20, "titlePadding": 18, "format": ".1f",
                          "values": [0.08,0.09,0.1,0.2,0.3,0.4,0.5,0.6,0.7,0.8,0.9,1,2,3,4,5,6,7,8,9,10,20,30,40,50,60,70,80],
                          "labelExpr": "abs(log(datum.value)/LN10 - round(log(datum.value)/LN10)) < 1e-6 ? datum.label : ''",
                          "tickSize": {"condition": {"test": "abs(log(datum.value)/LN10 - round(log(datum.value)/LN10)) < 1e-6", "value": -9}, "value": -5},
                          "labelPadding": 16, "labelFontSize": 15}},
           "color": {"field": "s", "type": "nominal", "scale": {"domain": ["k","r","g","b"], "range": ["#000000","#ff1f1f","#1f8f1f","#1f1fff"]}, "legend": null},
           "detail": {"field": "p", "type": "nominal"}
         }},
        {"data": {"name": "c_db"}, "mark": {"type": "line", "clip": true, "strokeWidth": 3, "color": "#7a7a7a", "opacity": 0.85, "interpolate": "monotone"},
         "encoding": {
           "x": {"field": "x", "type": "quantitative", "axis": {"orient": "top", "title": null, "labels": false, "values": [2,3,4,5,6,7,8,9,10,11,12,13,14,15,16,17,18,19,20], "tickSize": -5}},
           "y": {"field": "y", "type": "quantitative", "axis": {"orient": "right", "title": null, "labels": false,
                 "values": [0.08,0.09,0.1,0.2,0.3,0.4,0.5,0.6,0.7,0.8,0.9,1,2,3,4,5,6,7,8,9,10,20,30,40,50,60,70,80],
                 "tickSize": {"condition": {"test": "abs(log(datum.value)/LN10 - round(log(datum.value)/LN10)) < 1e-6", "value": -9}, "value": -5}}}
         }},
        {"data": {"name": "c_kap"}, "mark": {"type": "text", "align": "right", "baseline": "middle", "font": "DejaVu Serif", "fontStyle": "italic", "fontSize": 19, "color": "#1e3d4d"},
         "encoding": {"x": {"field": "x", "type": "quantitative", "axis": null}, "y": {"field": "y", "type": "quantitative", "axis": null}, "text": {"field": "t"}}},
        {"data": {"name": "c_lab"}, "mark": {"type": "text", "align": "right", "baseline": "middle", "font": "Lato", "fontSize": 18},
         "encoding": {"x": {"field": "x", "type": "quantitative", "axis": null}, "y": {"field": "y", "type": "quantitative", "axis": null}, "text": {"field": "t"}, "color": {"field": "s", "type": "nominal", "legend": null}}},
        {"data": {"name": "c_dbl"}, "mark": {"type": "text", "align": "center", "baseline": "middle", "font": "DejaVu Serif", "fontStyle": "italic", "fontSize": 19, "color": "#8a8a8a", "angle": 25},
         "encoding": {"x": {"field": "x", "type": "quantitative", "axis": null}, "y": {"field": "y", "type": "quantitative", "axis": null}, "text": {"field": "t"}}}
      ]
    }
  ]
}
